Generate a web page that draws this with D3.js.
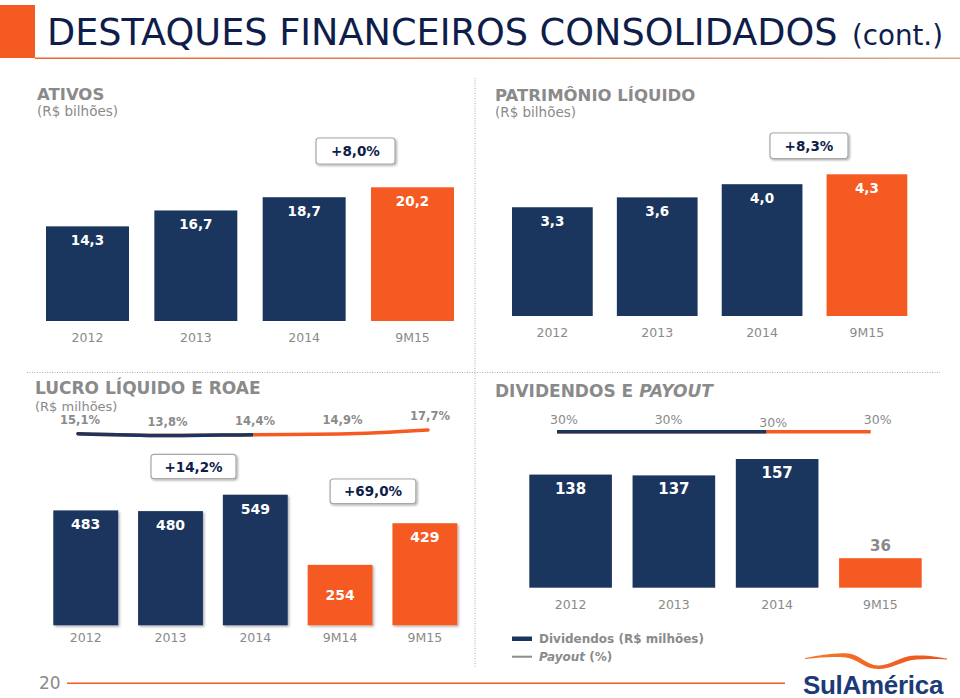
<!DOCTYPE html>
<html>
<head>
<meta charset="utf-8">
<script src="https://cdn.jsdelivr.net/npm/d3@7"></script>
<style>
  html, body { margin: 0; padding: 0; background: #fff; }
  svg { display: block; font-family: "DejaVu Sans", Verdana, sans-serif; }
</style>
</head>
<body>
<svg id="chart" width="960" height="698"></svg>
<script>
// ---------- DATA ----------
const ativosCats = ["2012", "2013", "2014", "9M15"];
const ativosVals = [14.3, 16.7, 18.7, 20.2];
const ativosGrowth = "+8,0%";

const plCats = ["2012", "2013", "2014", "9M15"];
const plVals = [3.3, 3.6, 4.0, 4.3];
const plGrowth = "+8,3%";

const lucroCats = ["2012", "2013", "2014", "9M14", "9M15"];
const lucroVals = [483, 480, 549, 254, 429];
const roaeVals = [15.1, 13.8, 14.4, 14.9, 17.7];
const lucroGrowth = ["+14,2%", "+69,0%"];

const divCats = ["2012", "2013", "2014", "9M15"];
const divVals = [138, 137, 157, 36];
const payoutVals = [30, 30, 30, 30];

const titleMain = "DESTAQUES FINANCEIROS CONSOLIDADOS";
const titleCont = "(cont.)";
const pageNum = "20";

// ---------- STYLE ----------
const NAVY = "#1b365e";
const ORANGE = "#f55a23";
const GRAY = "#8a8a8a";
const TITLE = "#0f1d4b";

const loc = d3.formatLocale({ decimal: ",", thousands: ".", grouping: [3], currency: ["R$", ""] });
const f1 = loc.format(".1f");
const f0 = loc.format("d");
const fpct1 = v => f1(v) + "%";
const fpct0 = v => f0(v) + "%";

const svg = d3.select("#chart");
const defs = svg.append("defs");

const hdrGrad = defs.append("linearGradient").attr("id", "hdrGrad").attr("x1", "0%").attr("x2", "100%");
hdrGrad.append("stop").attr("offset", "0%").attr("stop-color", "#f0642a");
hdrGrad.append("stop").attr("offset", "100%").attr("stop-color", "#d9a68a");

const swGrad = defs.append("linearGradient").attr("id", "swGrad").attr("x1", "0%").attr("x2", "100%");
swGrad.append("stop").attr("offset", "0%").attr("stop-color", "#f07a2a");
swGrad.append("stop").attr("offset", "50%").attr("stop-color", "#f26522");
swGrad.append("stop").attr("offset", "100%").attr("stop-color", "#e8561e");

const shadow = defs.append("filter").attr("id", "shadow").attr("x", "-10%").attr("y", "-10%").attr("width", "130%").attr("height", "130%");
shadow.append("feDropShadow").attr("dx", 1.5).attr("dy", 1.5).attr("stdDeviation", 1.2)
  .attr("flood-color", "#000").attr("flood-opacity", 0.3);

const boxShadow = defs.append("filter").attr("id", "boxShadow").attr("x", "-10%").attr("y", "-20%").attr("width", "130%").attr("height", "160%");
boxShadow.append("feDropShadow").attr("dx", 1.2).attr("dy", 1.2).attr("stdDeviation", 0.8)
  .attr("flood-color", "#000").attr("flood-opacity", 0.35);

// ---------- HEADER ----------
svg.append("rect").attr("x", 0).attr("y", 5).attr("width", 35).attr("height", 53).attr("fill", ORANGE);
svg.append("rect").attr("x", 35).attr("y", 57.5).attr("width", 925).attr("height", 1.5).attr("fill", "url(#hdrGrad)");

function fitText(sel, baseSize, targetWidth) {
  const w = sel.node().getComputedTextLength();
  sel.attr("font-size", baseSize * targetWidth / w);
}
const tMain = svg.append("text").attr("x", 47).attr("y", 45).attr("fill", TITLE)
  .attr("font-size", 34).text(titleMain);
fitText(tMain, 34, 791);
const tCont = svg.append("text").attr("x", 852).attr("y", 45).attr("fill", TITLE)
  .attr("font-size", 26).text(titleCont);
fitText(tCont, 26, 91);

// ---------- SEPARATORS ----------
svg.append("line").attr("x1", 475).attr("x2", 475).attr("y1", 78).attr("y2", 667)
  .attr("stroke", "#aaa").attr("stroke-width", 1).attr("stroke-dasharray", "1,1.5");
svg.append("line").attr("x1", 27).attr("x2", 940).attr("y1", 372.5).attr("y2", 372.5)
  .attr("stroke", "#aaa").attr("stroke-width", 1).attr("stroke-dasharray", "1,1.5");

// ---------- HELPERS ----------
function sectionTitle(x, y, parts, size) {
  const t = svg.append("text").attr("x", x).attr("y", y).attr("fill", GRAY)
    .attr("font-weight", "bold").attr("font-size", size);
  parts.forEach(p => t.append("tspan").attr("font-style", p.italic ? "italic" : "normal").text(p.text));
  return t;
}
function subTitle(x, y, txt, size) {
  svg.append("text").attr("x", x).attr("y", y).attr("fill", GRAY).attr("font-size", size || 13.5).text(txt);
}
function growthBox(cx, y, w, h, txt) {
  svg.append("rect").attr("x", cx - w / 2).attr("y", y).attr("width", w).attr("height", h)
    .attr("rx", 3).attr("fill", "#fff").attr("stroke", "#a8a8a8").attr("stroke-width", 1.2)
    .attr("filter", "url(#boxShadow)");
  svg.append("text").attr("x", cx).attr("y", y + h / 2 + 5).attr("text-anchor", "middle")
    .attr("fill", TITLE).attr("font-weight", "bold").attr("font-size", 13.5).text(txt);
}

function barChart(opts) {
  const { cats, vals, x0, x1, yBase, yTop, pad, colors, fmt, labelSize, catY, useShadow, labelMode } = opts;
  const x = d3.scaleBand().domain(cats).range([x0, x1]).paddingInner(pad).paddingOuter(0);
  const y = d3.scaleLinear().domain([0, d3.max(vals)]).range([yBase, yTop]);
  const g = svg.append("g");
  const data = cats.map((c, i) => ({ c, v: vals[i], i }));
  g.selectAll("rect").data(data).join("rect")
    .attr("x", d => x(d.c)).attr("width", x.bandwidth())
    .attr("y", d => y(d.v)).attr("height", d => yBase - y(d.v))
    .attr("fill", d => colors[d.i])
    .attr("filter", useShadow ? "url(#shadow)" : null);
  g.selectAll("text.val").data(data).join("text").attr("class", "val")
    .attr("x", d => x(d.c) + x.bandwidth() / 2)
    .attr("y", d => {
      const h = yBase - y(d.v);
      if (h < 40) return y(d.v) - 7;
      if (labelMode === "centerSmall" && h < 70) return y(d.v) + h / 2 + 5;
      return y(d.v) + 19;
    })
    .attr("text-anchor", "middle").attr("font-weight", "bold").attr("font-size", labelSize)
    .attr("fill", d => (yBase - y(d.v) < 40 ? GRAY : "#fff"))
    .text(d => fmt(d.v));
  const ax = g.append("g").attr("transform", `translate(0,${yBase})`)
    .call(d3.axisBottom(x).tickSize(0).tickPadding(catY - yBase - 9));
  ax.select(".domain").remove();
  ax.selectAll("text").attr("fill", GRAY).attr("font-size", 12.5)
    .attr("font-family", "DejaVu Sans, Verdana, sans-serif");
  return { x, y };
}

// ---------- ATIVOS ----------
sectionTitle(37, 100, [{ text: "ATIVOS" }], 16.5);
subTitle(37, 116, "(R$ bilhões)");
const ativosColors = ativosCats.map((c, i) => i === ativosCats.length - 1 ? ORANGE : NAVY);
barChart({ cats: ativosCats, vals: ativosVals, x0: 46, x1: 454, yBase: 321, yTop: 187.3, pad: 0.234,
  colors: ativosColors, fmt: f1, labelSize: 13.5, catY: 342 });
growthBox(355.5, 138, 79, 26, ativosGrowth);

// ---------- PATRIMÔNIO LÍQUIDO ----------
sectionTitle(495, 101, [{ text: "PATRIMÔNIO LÍQUIDO" }], 16.5);
subTitle(495, 117, "(R$ bilhões)");
const plColors = plCats.map((c, i) => i === plCats.length - 1 ? ORANGE : NAVY);
barChart({ cats: plCats, vals: plVals, x0: 512, x1: 907.3, yBase: 316, yTop: 174.3, pad: 0.23,
  colors: plColors, fmt: f1, labelSize: 13.5, catY: 337 });
growthBox(809, 133, 78, 25.5, plGrowth);

// ---------- LUCRO LÍQUIDO E ROAE ----------
sectionTitle(35, 394, [{ text: "LUCRO LÍQUIDO E ROAE" }], 17);
subTitle(35, 410.5, "(R$ milhões)", 13);
const lucroColors = lucroCats.map(c => c.startsWith("9M") ? ORANGE : NAVY);
barChart({ cats: lucroCats, vals: lucroVals, x0: 53.3, x1: 457.3, yBase: 625.3, yTop: 494.7, pad: 0.235,
  colors: lucroColors, fmt: f0, labelSize: 14, catY: 642, useShadow: true, labelMode: "centerSmall" });
growthBox(193.5, 454.3, 85, 24.4, lucroGrowth[0]);
growthBox(373, 479, 85.7, 24.7, lucroGrowth[1]);

// ROAE line
(function () {
  const xp = d3.scalePoint().domain(lucroCats).range([78, 428]);
  const yl = d3.scaleLinear().domain([13.8, 17.7]).range([435.5, 430]);
  const pts = lucroCats.map((c, i) => [xp(c), yl(roaeVals[i])]);
  const line = d3.line().curve(d3.curveMonotoneX);
  const splitX = xp(lucroCats[2]);
  defs.append("clipPath").attr("id", "clipRoaeL").append("rect")
    .attr("x", 0).attr("y", 380).attr("width", splitX).attr("height", 80);
  svg.append("path").attr("d", line(pts)).attr("fill", "none").attr("stroke", ORANGE)
    .attr("stroke-width", 3.5).attr("stroke-linecap", "round");
  svg.append("path").attr("d", line(pts)).attr("fill", "none").attr("stroke", NAVY)
    .attr("stroke-width", 3.5).attr("stroke-linecap", "round").attr("clip-path", "url(#clipRoaeL)");
  svg.selectAll("text.roae").data(roaeVals).join("text").attr("class", "roae")
    .attr("x", (d, i) => xp(lucroCats[i]) + 2).attr("y", d => yl(d) - 10)
    .attr("text-anchor", "middle").attr("fill", GRAY).attr("font-weight", "bold").attr("font-size", 11.5)
    .text(fpct1);
})();

// ---------- DIVIDENDOS E PAYOUT ----------
sectionTitle(495, 397, [{ text: "DIVIDENDOS E " }, { text: "PAYOUT", italic: true }], 17);
const divColors = divCats.map((c, i) => i === divCats.length - 1 ? ORANGE : NAVY);
barChart({ cats: divCats, vals: divVals, x0: 529.3, x1: 921.7, yBase: 587.7, yTop: 459, pad: 0.2,
  colors: divColors, fmt: f0, labelSize: 15, catY: 609.5 });

(function () {
  const xp = d3.scalePoint().domain(divCats).range([557, 870.7]);
  const yl = d3.scaleLinear().domain([0, 60]).range([461.7, 401.7]);
  const pts = divCats.map((c, i) => [xp(c), yl(payoutVals[i])]);
  const line = d3.line();
  const splitX = xp(divCats[2]);
  defs.append("clipPath").attr("id", "clipPayL").append("rect")
    .attr("x", 480).attr("y", 400).attr("width", splitX - 480).attr("height", 60);
  svg.append("path").attr("d", line(pts)).attr("fill", "none").attr("stroke", ORANGE)
    .attr("stroke-width", 3.5);
  svg.append("path").attr("d", line(pts)).attr("fill", "none").attr("stroke", NAVY)
    .attr("stroke-width", 3.5).attr("clip-path", "url(#clipPayL)");
  svg.selectAll("text.pay").data(payoutVals).join("text").attr("class", "pay")
    .attr("x", (d, i) => xp(divCats[i]) + 7).attr("y", (d, i) => yl(d) - (i === 2 ? 5 : 7.7))
    .attr("text-anchor", "middle").attr("fill", GRAY).attr("font-size", 12.5)
    .text(fpct0);
})();

// legend
svg.append("rect").attr("x", 512).attr("y", 636.5).attr("width", 20).attr("height", 4.5).attr("fill", NAVY);
svg.append("text").attr("x", 539).attr("y", 642.5).attr("fill", GRAY).attr("font-weight", "bold")
  .attr("font-size", 12).text("Dividendos (R$ milhões)");
svg.append("line").attr("x1", 512).attr("x2", 532).attr("y1", 656.7).attr("y2", 656.7)
  .attr("stroke", "#8c8c8c").attr("stroke-width", 2);
const lg2 = svg.append("text").attr("x", 539).attr("y", 661).attr("fill", GRAY).attr("font-weight", "bold")
  .attr("font-size", 12);
lg2.append("tspan").attr("font-style", "italic").text("Payout");
lg2.append("tspan").text(" (%)");

// ---------- FOOTER ----------
svg.append("text").attr("x", 39).attr("y", 689).attr("fill", GRAY).attr("font-size", 17).text(pageNum);
svg.append("rect").attr("x", 67).attr("y", 682.5).attr("width", 718).attr("height", 1.5).attr("fill", ORANGE);

// logo
svg.append("path")
  .attr("d", "M805,658 C820,655 835,652.5 848,653.5 C860,654.5 866,665 878,665.5 C890,666 900,656 915,655.5 " +
             "C930,655 940,657.5 947,658.5 L947,659.5 C938,659 928,658.5 916,659.5 C902,661 892,669 878,669 " +
             "C864,669 858,659 846,657.5 C833,656.5 820,657.5 805,659 Z")
  .attr("fill", "url(#swGrad)");
svg.append("text").attr("x", 803).attr("y", 693.5).attr("fill", "#1d3a78")
  .attr("font-family", "Liberation Sans, Arial, sans-serif").attr("font-weight", "bold")
  .attr("font-size", 26).attr("letter-spacing", -0.3).text("SulAmérica");
</script>
</body>
</html>
